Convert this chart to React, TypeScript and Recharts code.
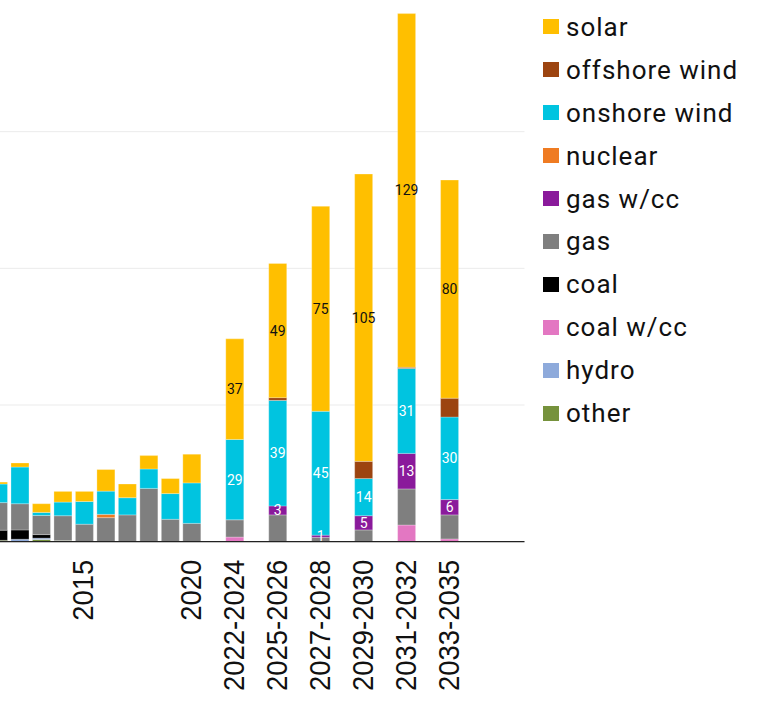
import React from 'react';
import { BarChart, Bar, XAxis, YAxis, CartesianGrid, Legend, LabelList } from 'recharts';

const categories = [
  '2011', '2012', '2013', '2014', '2015', '2016', '2017', '2018', '2019', '2020',
  'gap2021', '2022-2024', 'gapA', '2025-2026', 'gapB', '2027-2028', 'gapC',
  '2029-2030', 'gapD', '2031-2032', 'gapE', '2033-2035', 'gapF', 'gapG', 'gapH',
];

const tickLabels = ['2015', '2020', '2022-2024', '2025-2026', '2027-2028', '2029-2030', '2031-2032', '2033-2035'];
const labelledCategories = ['2022-2024', '2025-2026', '2027-2028', '2029-2030', '2031-2032', '2033-2035'];

const solar = [0.7, 1.5, 3.2, 3.9, 3.7, 7.9, 5.0, 4.9, 5.5, 10.5, null, 36.8, null, 49.1, null, 75.0, null, 105.1, null, 129.4, null, 79.8, null, null, null];
const offshoreWind = [0, 0, 0, 0, 0, 0, 0, 0, 0, 0, null, 0, null, 1.0, null, 0, null, 6.3, null, 0.4, null, 6.9, null, null, null];
const onshoreWind = [6.8, 13.4, 1.1, 5.0, 8.3, 8.5, 6.3, 7.1, 9.4, 14.8, null, 29.4, null, 38.6, null, 45.3, null, 13.6, null, 31.1, null, 30.2, null, null, null];
const nuclear = [0, 0, 0, 0, 0, 1.2, 0, 0, 0, 0, null, 0, null, 0, null, 0, null, 0, null, 0, null, 0, null, null, null];
const gasCC = [0, 0, 0, 0, 0, 0, 0, 0, 0, 0, null, 0, null, 3.3, null, 0.8, null, 5.2, null, 13.0, null, 5.6, null, null, null];
const gas = [10.1, 9.6, 7.0, 9.1, 6.4, 8.8, 9.8, 19.5, 8.2, 6.7, null, 6.3, null, 9.8, null, 1.6, null, 4.3, null, 13.2, null, 8.8, null, null, null];
const coal = [3.7, 3.4, 1.3, 0, 0, 0, 0, 0, 0, 0, null, 0, null, 0, null, 0, null, 0, null, 0, null, 0, null, null, null];
const coalCC = [0, 0, 0, 0, 0, 0, 0, 0, 0, 0, null, 1.7, null, 0, null, 0, null, 0, null, 6.1, null, 1.0, null, null, null];
const hydro = [0, 0.9, 0.5, 0, 0, 0, 0, 0, 0, 0, null, 0, null, 0, null, 0, null, 0, null, 0, null, 0, null, null, null];
const other = [0.5, 0, 0.8, 0.4, 0, 0, 0, 0, 0, 0, null, 0, null, 0, null, 0, null, 0, null, 0, null, 0, null, null, null];

const yTicks = [0, 50, 100, 150, 200];

// stacking order: bottom to top
const series = [
  { key: 'other', name: 'other', color: '#76923c', values: other, label: null },
  { key: 'hydro', name: 'hydro', color: '#8eaadb', values: hydro, label: null },
  { key: 'coalCC', name: 'coal w/cc', color: '#e377c2', values: coalCC, label: null },
  { key: 'coal', name: 'coal', color: '#000000', values: coal, label: null },
  { key: 'gas', name: 'gas', color: '#7f7f7f', values: gas, label: null },
  { key: 'gasCC', name: 'gas w/cc', color: '#8a1a9b', values: gasCC, label: '#ffffff' },
  { key: 'nuclear', name: 'nuclear', color: '#ef7b22', values: nuclear, label: null },
  { key: 'onshore', name: 'onshore wind', color: '#00c4e0', values: onshoreWind, label: '#ffffff' },
  { key: 'offshore', name: 'offshore wind', color: '#9c4410', values: offshoreWind, label: null },
  { key: 'solar', name: 'solar', color: '#ffbf00', values: solar, label: '#111111' },
];

const data = categories.map((cat, i) => {
  const row: any = { cat };
  series.forEach((s) => {
    row[s.key] = s.values[i];
    row[s.key + '_lbl'] = labelledCategories.includes(cat) ? s.values[i] : null;
  });
  return row;
});

const AxisTick = (props: any) => {
  const { x, y, payload } = props;
  const v = payload.value;
  if (!tickLabels.includes(v)) return null;
  const ay = y + 18;
  return (
    <g transform={`translate(${x}, ${ay}) rotate(-90) scale(0.915, 1)`}>
      <text
        x={0}
        y={0}
        dy={9.2}
        textAnchor="end"
        fill="#111"
        style={{ fontFamily: "'Liberation Sans', Arial, sans-serif", fontSize: 30 }}
      >
        {v}
      </text>
    </g>
  );
};

const makeLabel = (color: string) => (props: any) => {
  const { x, y, width, height, value } = props;
  if (value == null || value === 0) return null;
  return (
    <text
      x={x + width / 2}
      y={y + height / 2}
      dy="0.36em"
      textAnchor="middle"
      fill={color}
      style={{ fontFamily: 'Roboto, sans-serif', fontSize: 14 }}
    >
      {Math.round(value)}
    </text>
  );
};

const LegendContent = () => {
  const items = [...series].reverse();
  return (
    <div style={{ fontFamily: 'Roboto, sans-serif' }}>
      {items.map((s) => (
        <div key={s.key} style={{ height: 42.94, display: 'flex', alignItems: 'center' }}>
          <div style={{ width: 15.5, height: 15, background: s.color, marginRight: 7.2, flex: 'none' }} />
          <span style={{ fontSize: 26, letterSpacing: 1, color: '#111', whiteSpace: 'nowrap', lineHeight: 1 }}>{s.name}</span>
        </div>
      ))}
    </div>
  );
};

export default function App() {
  return (
    <div style={{ position: 'absolute', left: 0, top: 0, width: 758, height: 720, overflow: 'hidden', background: '#fff' }}>
      <div style={{ position: 'absolute', left: -100, top: -50 }}>
        <BarChart
          width={858}
          height={770}
          data={data}
          margin={{ top: 45, right: 233.5, bottom: 8.3, left: 87.5 }}
        >
          <CartesianGrid vertical={false} stroke="#ebebeb" strokeWidth={1} />
          <YAxis hide domain={[0, 200]} ticks={yTicks} type="number" />
          <XAxis
            dataKey="cat"
            interval={0}
            tickLine={false}
            tickSize={0}
            tickMargin={0}
            height={170}
            axisLine={{ stroke: '#222', strokeWidth: 1.3 }}
            tick={<AxisTick />}
          />
          <Legend
            layout="vertical"
            align="center"
            verticalAlign="middle"
            wrapperStyle={{ left: 643.3, top: 55.3, width: 215 }}
            content={<LegendContent />}
          />
          {series.map((s) => (
            <Bar
              key={s.key}
              dataKey={s.key}
              name={s.name}
              stackId="a"
              fill={s.color}
              barSize={18}
              stroke="#ffffff"
              strokeOpacity={0.45}
              strokeWidth={0.6}
              isAnimationActive={false}
            >
              {s.label ? <LabelList dataKey={s.key + '_lbl'} content={makeLabel(s.label)} /> : null}
            </Bar>
          ))}
        </BarChart>
      </div>
    </div>
  );
}
